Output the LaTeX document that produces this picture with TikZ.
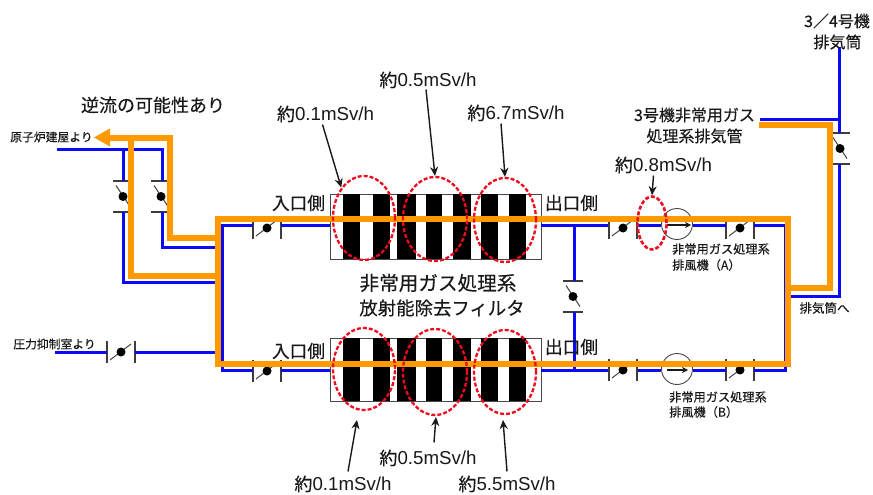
\documentclass[tikz,border=0pt]{standalone}
\usepackage{fontspec}
\setmainfont{Liberation Sans}
\newfontfamily\cjk[FakeBold=0.25]{Noto Sans CJK JP}
\usetikzlibrary{arrows.meta,calc,shapes.geometric}
\definecolor{pipeblue}{RGB}{10,10,245}
\definecolor{flow}{RGB}{255,153,0}
\definecolor{doseRed}{RGB}{240,10,30}
\definecolor{ink}{RGB}{25,25,25}
\newcommand{\fs}[1]{\fontsize{#1}{#1}\selectfont\cjk}
\tikzset{
 x=1pt,y=-1pt,
 pipe/.style={draw=pipeblue,line width=3pt,line join=miter},
 flowline/.style={draw=flow,line width=6.5pt,line join=miter},
 tick/.style={draw=ink!85,line width=1.1pt},
 lbl/.style={inner sep=0pt,text=ink,align=center},
 filterbox/.style={draw=ink!80,line width=1pt,fill=white,inner sep=0pt,minimum width=211pt},
 dose/.style={draw=doseRed,line width=2.3pt,dash pattern=on 4pt off 2pt,ellipse},
 callout/.style={draw=ink,line width=1.4pt,-{Stealth[length=9pt,width=8pt]}},
 fan/.style={circle,draw=ink!80,line width=.9pt,minimum size=31pt,inner sep=0pt},
 hvalve/.pic={
  \draw[tick] (-14,-11)--(-14,11) (14,-11)--(14,11);
  \draw[ink!80,line width=1pt] (-11,8)--(10,-8);
  \fill[black] (0,0) circle (4.5pt);
 },
 vvalve/.pic={
  \draw[tick] (-10,-15.5)--(10,-15.5) (-10,15.5)--(10,15.5);
  \draw[ink!80,line width=1pt] (-7,-11)--(7,10);
  \fill[black] (0,0) circle (4.5pt);
 }
}
\newcommand{\stripes}[2]{%
 \foreach \a/\b in {342.7/360,372.7/390,396.7/415.7,425.7/442.3,453.3/470.7,480.7/498,509.3/526}
  {\fill[black] (\a,#1) rectangle (\b,#2);}}
\begin{document}
\begin{tikzpicture}
\useasboundingbox (0,0) rectangle (873,495);
\fill[white] (0,0) rectangle (873,495);
% filters
\node[filterbox,minimum height=65pt] (filtA) at (435.5,226.5) {};
\node[filterbox,minimum height=63pt] (filtB) at (435.5,369.5) {};
\stripes{194}{259}
\stripes{338}{401}
% junction coordinates
\coordinate (bTL) at (222,225); \coordinate (bBL) at (222,370);
\coordinate (bTR) at (785,225); \coordinate (bBR) at (785,370);
\coordinate (r1s) at (57,149); \coordinate (r1a) at (123,149); \coordinate (r1b) at (162,149);
\coordinate (r1c) at (123,282); \coordinate (r1d) at (162,247);
\coordinate (r1e) at (222,282); \coordinate (r1f) at (222,247);
\coordinate (ps) at (55,352); \coordinate (pe) at (222,352);
\coordinate (stackTop) at (839,47); \coordinate (stackBr) at (839,119);
\coordinate (ventEnd) at (760,119); \coordinate (stackLow) at (839,296); \coordinate (stackIn) at (785,296);
\coordinate (linkT) at (574,225); \coordinate (linkB) at (574,370);
% valves
\pic at (123,196.5) {vvalve};
\pic at (161,196.5) {vvalve};
\pic at (121,352) {hvalve};
\pic at (267,228) {hvalve};
\pic at (267,371) {hvalve};
\pic at (623,228) {hvalve};
\pic at (623,370) {hvalve};
\pic at (740,228) {hvalve};
\pic at (740,370) {hvalve};
\pic at (573,296.5) {vvalve};
\pic at (840,148.5) {vvalve};
% blue pipes
\draw[pipe] (r1s)--(r1b)--(162,181) (162,212)--(r1d)--(r1f);
\draw[pipe] (r1a)--(123,181) (123,212)--(r1c)--(r1e);
\draw[pipe] (ps)--(107,352) (135,352)--(pe);
\draw[pipe] (253,225)--(bTL)--(bBL)--(253,370);
\draw[pipe] (281,225)--(330,225) (281,370)--(330,370);
\draw[pipe] (541,225)--(608,225) (541,370)--(608,370);
% fans
\node[fan] (fanA) at (677,224) {};
\node[fan] (fanB) at (677,369) {};
\draw[pipe] (638,225)--(fanA.west|-linkT) (fanA.east|-linkT)--(726,225);
\draw[pipe] (638,370)--(fanB.west|-linkB) (fanB.east|-linkB)--(726,370);
\draw[ink,line width=1.5pt,-{Stealth[length=6pt,width=6pt]}] (667,225)--(691,225);
\draw[ink,line width=1.5pt,-{Stealth[length=6pt,width=6pt]}] (667,370)--(688,370);
\draw[pipe] (754,225)--(bTR)--(bBR)--(754,370);
\draw[pipe] (linkT)--(574,281) (574,312)--(linkB);
\draw[pipe] (stackTop)--(839,133) (839,164)--(stackLow)--(stackIn);
\draw[pipe] (ventEnd)--(stackBr);
% orange flow
\coordinate (fTL) at (218,219); \coordinate (fBL) at (218,364);
\coordinate (fTR) at (788,219); \coordinate (fBR) at (788,364);
\draw[flowline] (fTL) rectangle (fBR);
\coordinate (fa) at (170,138); \coordinate (fb) at (131,138);
\draw[flowline] (218,238)--(170,238)--(fa)--(105,138);
\draw[flowline] (218,276)--(131,276)--(fb);
\draw[fill=flow,draw=none] (94,137.5)--(110,128.5)--(110,146.5)--cycle;
\draw[flowline] (fTR|-0,288)--(830,288)--(830,125)--(759,125);
% dose ellipses
\node[dose,minimum width=62pt,minimum height=84pt,inner sep=0pt] (d1) at (364,218) {};
\node[dose,minimum width=64pt,minimum height=84pt,inner sep=0pt] (d2) at (435,219) {};
\node[dose,minimum width=62pt,minimum height=84pt,inner sep=0pt] (d3) at (505,220) {};
\node[dose,minimum width=62pt,minimum height=82pt,inner sep=0pt] (d4) at (364,369) {};
\node[dose,minimum width=64pt,minimum height=86pt,inner sep=0pt] (d5) at (435,372) {};
\node[dose,minimum width=62pt,minimum height=84pt,inner sep=0pt] (d6) at (505,372) {};
\node[dose,line width=2.6pt,minimum width=29pt,minimum height=53pt,inner sep=0pt] (d7) at (652,223) {};
% dose labels
\newcommand{\dosetxt}[1]{{\fs{18}約}{\fontsize{18.7}{18.7}\selectfont #1}}
\node[lbl] (t1) at (325.5,114) {\dosetxt{0.1mSv/h}};
\node[lbl] (t2) at (428,80) {\dosetxt{0.5mSv/h}};
\node[lbl] (t3) at (516,113) {\dosetxt{6.7mSv/h}};
\node[lbl] (t7) at (663.5,165) {\dosetxt{0.8mSv/h}};
\node[lbl] (t4) at (343,484) {\dosetxt{0.1mSv/h}};
\node[lbl] (t5) at (428,458) {\dosetxt{0.5mSv/h}};
\node[lbl] (t6) at (507,484) {\dosetxt{5.5mSv/h}};
\draw[callout] (t1.south)++(-3,2)--(d1.north west);
\draw[callout] (t2.south)++(-2,1)--(d2.north);
\draw[callout] (t3.south)++(-15,2)--(d3.north);
\draw[callout] (t7.south)++(-10,2)--(d7.north);
\draw[callout] (t4.north)++(5,-4)--(357,420);
\draw[callout] (t5.north)++(6,-7)--(436,417);
\draw[callout] (t6.north)++(0,-4)--(503,420);
% text
\node[lbl] (back) at (153,105) {\fs{18}逆流の可能性あり};
\node[lbl] (src1) at (51.5,137) {\fs{11.8}原子炉建屋より};
\node[lbl] (src2) at (54.5,344) {\fs{11.8}圧力抑制室より};
\node[lbl] (in1) at (298.5,203) {\fs{17.7}入口側};
\node[lbl] (in2) at (298.5,351) {\fs{17.7}入口側};
\node[lbl] (out1) at (571.5,203) {\fs{17.7}出口側};
\node[lbl] (out2) at (571.5,347) {\fs{17.7}出口側};
\node[lbl] (fa1) at (438,283) {\fs{19.6}非常用ガス処理系};
\node[lbl] (fa2) at (442,308) {\fs{18.4}放射能除去フィルタ};
\node[lbl] (st1) at (837,21) {\fs{16}3／4号機};
\node[lbl] (st2) at (837.5,42) {\fs{16}排気筒};
\node[lbl] (v1) at (694.5,115) {\fs{16}3号機非常用ガス};
\node[lbl] (v2) at (694.5,136) {\fs{16}処理系排気管};
\node[lbl,anchor=west] (fA1) at (672,249) {\fs{12.2}非常用ガス処理系};
\node[lbl,anchor=west] (fA2) at (672,265) {\fs{12.2}排風機（A）};
\node[lbl,anchor=west] (fB1) at (669,397) {\fs{12.2}非常用ガス処理系};
\node[lbl,anchor=west] (fB2) at (669,412) {\fs{12.2}排風機（B）};
\node[lbl] (ex) at (824.5,308) {\fs{12.5}排気筒へ};
\end{tikzpicture}
\end{document}
